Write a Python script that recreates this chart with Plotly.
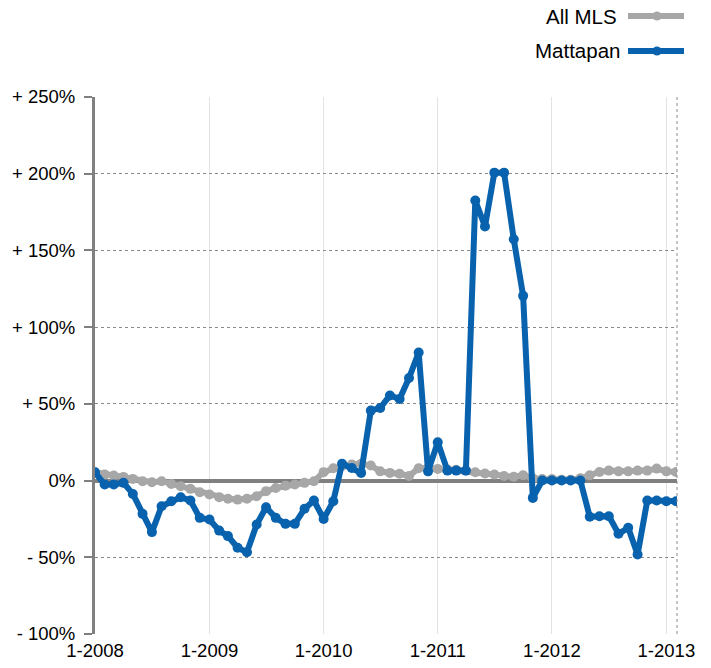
import pandas as pd
import plotly.graph_objects as go

months = pd.date_range("2008-01-01", periods=62, freq="MS")

all_mls = [
    5.4, 3.9, 3.3, 2.4, 1.1, -0.4, -1.1, -0.4, -2.2, -3.7, -5.4, -7.6,
    -9.1, -10.8, -11.9, -12.4, -11.9, -10.2, -6.9, -4.8, -3.3, -2.6, -1.5, -0.4,
    5.5, 8.0, 9.5, 10.5, 11.0, 9.8, 6.0, 5.0, 4.5, 3.0, 8.0, 8.2,
    7.6, 7.2, 7.0, 6.5, 5.4, 4.6, 4.0, 3.0, 2.5, 3.5, 1.5, 1.0,
    1.0, 0.5, 0.5, 1.5, 3.5, 5.6, 6.5, 6.0, 6.0, 6.5, 6.5, 7.8,
    6.0, 5.6,
]

mattapan = [
    5.4, -2.6, -2.6, -1.5, -8.7, -21.7, -33.6, -16.7, -13.5, -10.9, -13.0, -24.3,
    -25.4, -32.6, -36.2, -43.8, -46.7, -28.6, -17.4, -24.3, -28.2, -28.2, -18.4, -13.0,
    -25.0, -13.5, 11.0, 8.2, 5.0, 45.6, 47.3, 55.5, 53.2, 66.8, 83.5, 6.0,
    25.0, 6.5, 6.5, 6.5, 182.5, 165.6, 200.7, 200.7, 157.3, 120.4, -11.3, 0.0,
    0.0, 0.0, 0.0, 0.0, -23.6, -23.2, -23.2, -34.7, -30.8, -48.2, -13.0, -13.0,
    -13.5, -13.5,
]

year_ticks = pd.date_range("2008-01-01", periods=6, freq="YS")
year_labels = ["1-2008", "1-2009", "1-2010", "1-2011", "1-2012", "1-2013"]

y_ticks = [-100, -50, 0, 50, 100, 150, 200, 250]
y_labels = ["- 100%", "- 50%", "0%", "+ 50%", "+ 100%", "+ 150%", "+ 200%", "+ 250%"]

GRAY = "#a7a7a7"
BLUE = "#0862ad"
AXIS = "#808080"
FONT = "Liberation Sans, Arial, sans-serif"

fig = go.Figure()
fig.add_trace(go.Scatter(
    x=months, y=all_mls, mode="lines+markers", name="All MLS",
    line=dict(color=GRAY, width=6), marker=dict(color=GRAY, size=10),
))
fig.add_trace(go.Scatter(
    x=months, y=mattapan, mode="lines+markers", name="Mattapan",
    line=dict(color=BLUE, width=6), marker=dict(color=BLUE, size=10),
))

fig.update_layout(
    width=711, height=668,
    margin=dict(l=95, r=34, t=97, b=34),
    paper_bgcolor="white", plot_bgcolor="white",
    showlegend=False,
    font=dict(family=FONT, size=18.5, color="black"),
    xaxis=dict(
        type="date",
        range=["2008-01-01", "2013-02-04"],
        tickvals=list(year_ticks), ticktext=year_labels,
        showgrid=True, gridcolor="#e3e3e3", gridwidth=1,
        showline=False, zeroline=False, ticks="",
        tickfont=dict(size=18.5), ticklabelstandoff=3,
        automargin=False,
    ),
    yaxis=dict(
        range=[-100, 250],
        tickvals=y_ticks, ticktext=y_labels,
        showgrid=True, gridcolor="#8a8a8a", gridwidth=1, griddash="dot",
        zeroline=True, zerolinecolor=AXIS, zerolinewidth=4,
        showline=True, linecolor=AXIS, linewidth=3,
        ticks="outside", ticklen=8, tickwidth=2, tickcolor=AXIS,
        tickfont=dict(size=18.5), ticklabelstandoff=5,
        automargin=False,
    ),
    shapes=[
        dict(type="line", xref="paper", yref="paper", x0=1, x1=1, y0=0, y1=1,
             line=dict(color="#8a8a8a", width=1, dash="dot")),
        # legend swatches
        dict(type="line", xref="paper", yref="paper",
             x0=(628 - 95) / 582, x1=(684 - 95) / 582,
             y0=(634 - 16) / 537, y1=(634 - 16) / 537,
             line=dict(color=GRAY, width=6)),
        dict(type="circle", xref="paper", yref="paper",
             x0=(652.5 - 95) / 582, x1=(661.5 - 95) / 582,
             y0=(634 - 20.5) / 537, y1=(634 - 11.5) / 537,
             fillcolor=GRAY, line=dict(width=0)),
        dict(type="line", xref="paper", yref="paper",
             x0=(628 - 95) / 582, x1=(684 - 95) / 582,
             y0=(634 - 51) / 537, y1=(634 - 51) / 537,
             line=dict(color=BLUE, width=6)),
        dict(type="circle", xref="paper", yref="paper",
             x0=(652.5 - 95) / 582, x1=(661.5 - 95) / 582,
             y0=(634 - 55.5) / 537, y1=(634 - 46.5) / 537,
             fillcolor=BLUE, line=dict(width=0)),
    ],
    annotations=[
        dict(text="All MLS", xref="paper", yref="paper",
             x=(619 - 95) / 582, y=(634 - 17) / 537,
             xanchor="right", yanchor="middle", showarrow=False,
             font=dict(size=20.5)),
        dict(text="Mattapan", xref="paper", yref="paper",
             x=(622 - 95) / 582, y=(634 - 50) / 537,
             xanchor="right", yanchor="middle", showarrow=False,
             font=dict(size=20.5)),
    ],
)

fig.write_html("out.html", config={"displayModeBar": False},
               post_script="document.body.style.margin='0';")
